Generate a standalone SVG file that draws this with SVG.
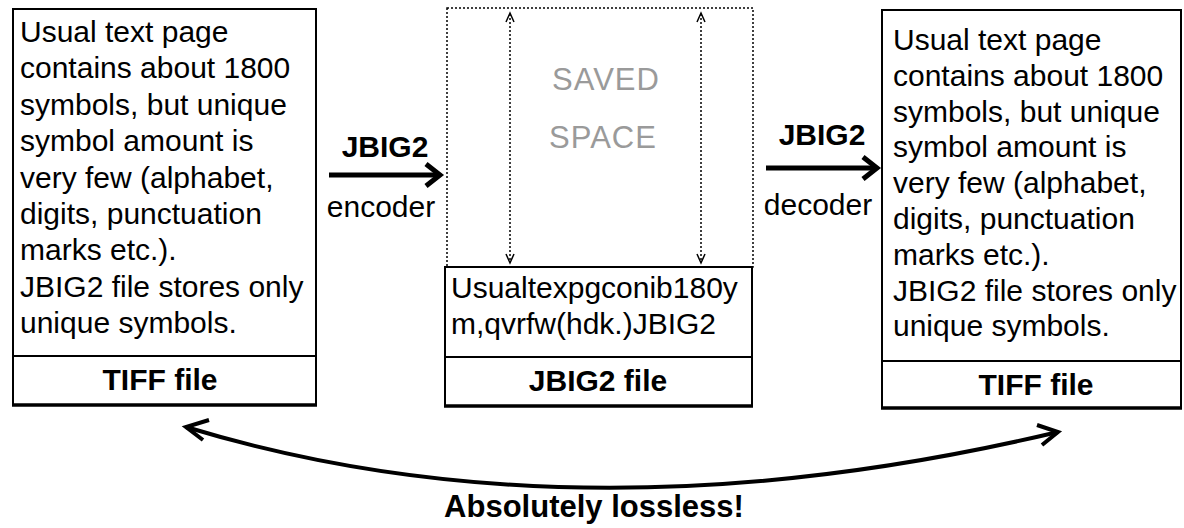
<svg xmlns="http://www.w3.org/2000/svg" width="1184" height="528" viewBox="0 0 1184 528">
<style>
.box{fill:#fff;stroke:#000;stroke-width:2}
.base{stroke:#000;stroke-width:3.5}
.body{font-family:"Liberation Sans",Arial,sans-serif;font-size:30px;fill:#000}
.bold{font-family:"Liberation Sans",Arial,sans-serif;font-size:30px;font-weight:bold;fill:#000}
.gray{font-family:"Liberation Sans",Arial,sans-serif;font-size:31px;fill:#9a9a9a;letter-spacing:1px}
.dot{fill:none;stroke:#000;stroke-width:1.5;stroke-dasharray:2 2}
.head{fill:none;stroke:#000;stroke-width:1.5}
.thick{fill:none;stroke:#000;stroke-width:5}
.curve{fill:none;stroke:#000;stroke-width:4}
</style>
<rect width="1184" height="528" fill="#fff"/>

<g id="tiff-source">
  <rect class="box" x="13" y="9" width="303" height="396"/>
  <line x1="13" y1="356" x2="316" y2="356" stroke="#000" stroke-width="2"/>
  <line class="base" x1="12" y1="405" x2="317" y2="405"/>
  <text class="body" x="20">
    <tspan x="20" y="42">Usual text page</tspan>
    <tspan x="20" y="78.4">contains about 1800</tspan>
    <tspan x="20" y="114.8">symbols, but unique</tspan>
    <tspan x="20" y="151.2">symbol amount is</tspan>
    <tspan x="20" y="187.6">very few (alphabet,</tspan>
    <tspan x="20" y="224">digits, punctuation</tspan>
    <tspan x="20" y="260.4">marks etc.).</tspan>
    <tspan x="20" y="296.8">JBIG2 file stores only</tspan>
    <tspan x="20" y="333.2">unique symbols.</tspan>
  </text>
  <text class="bold" x="160" y="390" text-anchor="middle">TIFF file</text>
</g>

<g id="saved-space">
  <rect class="dot" x="447" y="8" width="306" height="259"/>
  <text class="gray" x="606" y="90" text-anchor="middle">SAVED</text>
  <text class="gray" x="603" y="148" text-anchor="middle">SPACE</text>
</g>

<g id="jbig2-file">
  <rect class="box" x="445" y="267" width="307" height="139"/>
  <line x1="445" y1="357" x2="752" y2="357" stroke="#000" stroke-width="2"/>
  <line class="base" x1="444" y1="406" x2="753" y2="406"/>
  <text class="body">
    <tspan x="451" y="298">Usualtexpgconib180y</tspan>
    <tspan x="451" y="334">m,qvrfw(hdk.)JBIG2</tspan>
  </text>
  <text class="bold" x="598" y="391" text-anchor="middle">JBIG2 file</text>
</g>

<g id="tiff-result">
  <rect class="box" x="882" y="10" width="299" height="398"/>
  <line x1="882" y1="361" x2="1181" y2="361" stroke="#000" stroke-width="2"/>
  <line class="base" x1="881" y1="408" x2="1182" y2="408"/>
  <text class="body">
    <tspan x="893" y="50">Usual text page</tspan>
    <tspan x="893" y="85.8">contains about 1800</tspan>
    <tspan x="893" y="121.6">symbols, but unique</tspan>
    <tspan x="893" y="157.4">symbol amount is</tspan>
    <tspan x="893" y="193.2">very few (alphabet,</tspan>
    <tspan x="893" y="229">digits, punctuation</tspan>
    <tspan x="893" y="264.8">marks etc.).</tspan>
    <tspan x="893" y="300.6">JBIG2 file stores only</tspan>
    <tspan x="893" y="336.4">unique symbols.</tspan>
  </text>
  <text class="bold" x="1036" y="395" text-anchor="middle">TIFF file</text>
</g>

<g id="encoder-label">
  <text class="bold" x="385" y="157" text-anchor="middle">JBIG2</text>
  <text class="body" x="381" y="217" text-anchor="middle">encoder</text>
</g>
<g id="decoder-label">
  <text class="bold" x="822" y="145" text-anchor="middle">JBIG2</text>
  <text class="body" x="818" y="215" text-anchor="middle">decoder</text>
</g>
<g id="lossless-label">
  <text class="bold" x="594" y="517" text-anchor="middle" style="font-size:31px">Absolutely lossless!</text>
</g>

<g id="connectors">
  <line class="thick" x1="329" y1="175" x2="438" y2="175"/>
  <polyline class="thick" points="426,164 440,175 426,186" stroke-linejoin="miter"/>
  <line class="thick" x1="766" y1="168" x2="875" y2="168"/>
  <polyline class="thick" points="863,157 877,168 863,179" stroke-linejoin="miter"/>

  <line class="dot" x1="510" y1="14" x2="510" y2="262"/>
  <polyline class="head" points="506,22 510,13 514,22"/>
  <polyline class="head" points="506,254 510,263 514,254"/>
  <line class="dot" x1="701" y1="14" x2="701" y2="262"/>
  <polyline class="head" points="697,22 701,13 705,22"/>
  <polyline class="head" points="697,254 701,263 705,254"/>

  <path class="curve" d="M186,427 Q578,546 1058,432"/>
  <polyline class="curve" points="209,420 186,427 203,440"/>
  <polyline class="curve" points="1037,425 1058,432 1042,445"/>
</g>
</svg>
